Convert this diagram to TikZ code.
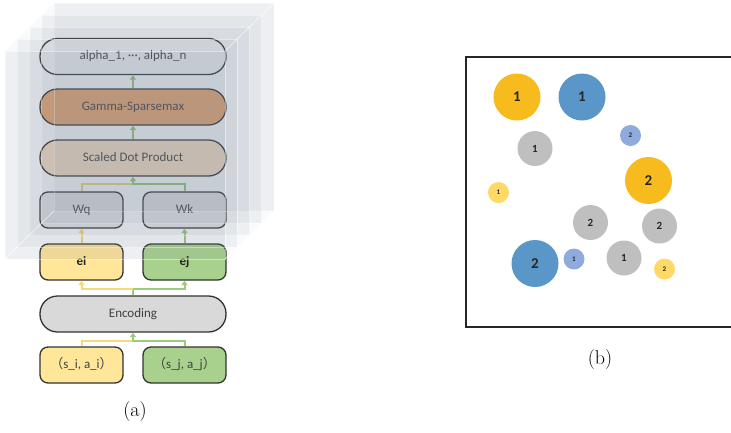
\documentclass[tikz,border=0pt]{standalone}
\usepackage{fontspec}
\newfontfamily\calibri{Carlito}
\newfontfamily\cjk{Noto Sans CJK SC}
\usetikzlibrary{arrows.meta,calc}

\definecolor{linec}{HTML}{333333}
\definecolor{txt}{HTML}{404040}
\definecolor{yl}{HTML}{F7D97C}
\definecolor{gn}{HTML}{9CCB7E}
\definecolor{fyel}{HTML}{FFE699}
\definecolor{fgrn}{HTML}{A9D18E}
\definecolor{fenc}{HTML}{D9D9D9}
\definecolor{fgam}{HTML}{F4AA70}
\definecolor{fsdp}{HTML}{FFE4C8}
\definecolor{fw}{HTML}{EBEBEB}
\definecolor{glass}{RGB}{110,125,145}
\definecolor{cgold}{HTML}{F7BB1E}
\definecolor{cblue}{HTML}{5B96C8}
\definecolor{cpale}{HTML}{8FAADC}
\definecolor{cgray}{HTML}{BFBFBF}
\definecolor{clyel}{HTML}{FFD966}
\definecolor{frame}{HTML}{262626}

\tikzset{
  boxtext/.style={font=\calibri\fontsize{13}{15}\selectfont, text=txt,
    text height=9pt, text depth=2.5pt},
  pill/.style={draw=linec, line width=1.3pt, rounded corners=17.5pt,
    minimum width=186pt, minimum height=36pt, inner sep=0pt, boxtext},
  smallbox/.style={draw=linec, line width=1.3pt, rounded corners=8pt,
    minimum width=83pt, minimum height=36pt, inner sep=0pt, boxtext},
  boldbox/.style={smallbox, font=\calibri\bfseries\fontsize{13}{15}\selectfont, text=black!85},
  yline/.style={draw=yl, line width=2pt},
  gline/.style={draw=gn, line width=2pt},
  tip/.style={-{Triangle[width=6pt,length=4.5pt]}},
  layer/.style={fill=glass, fill opacity=0.085, draw=white, draw opacity=0.45, line width=0.6pt},
  ball/.style={circle, inner sep=0pt, text=black!85},
  big/.style={ball, minimum size=47pt, font=\calibri\bfseries\fontsize{15}{16}\selectfont},
  mid/.style={ball, minimum size=35pt, font=\calibri\bfseries\fontsize{11}{12}\selectfont},
  tiny/.style={ball, minimum size=21pt, font=\calibri\bfseries\fontsize{7}{8}\selectfont},
  caption/.style={font=\fontsize{20}{22}\selectfont}
}

\begin{document}
\begin{tikzpicture}[x=1pt,y=-1pt]
\useasboundingbox (0,0) rectangle (731,432);

% ---------- (a) attention stack ----------
\node[smallbox, fill=fyel] (sa) at (81.5,365) {{\cjk （}s\_i, a\_i{\cjk ）}};
\node[smallbox, fill=fgrn] (sb) at (184.5,365) {{\cjk （}s\_j, a\_j{\cjk ）}};
\node[pill, fill=fenc] (enc) at (133,314) {Encoding};
\node[boldbox, fill=fyel] (ei) at (81.5,262) {ei};
\node[boldbox, fill=fgrn] (ej) at (184.5,262) {ej};
\node[smallbox, fill=fw] (wq) at (81.5,210) {Wq};
\node[smallbox, fill=fw] (wk) at (184.5,210) {Wk};
\node[pill, fill=fsdp] (sdp) at (133,158) {Scaled Dot Product};
\node[pill, fill=fgam] (gam) at (133,107) {Gamma-Sparsemax};
\node[pill, fill=white] (alp) at (133,56.5) {alpha\_1, ···, alpha\_n};

% junction points of the merging / splitting connectors
\coordinate (j1) at (133,341);
\coordinate (j2) at (133,289);
\coordinate (j3) at (133,184);

\draw[yline] (sa.north) |- (j1);
\draw[gline, tip] (sb.north) |- (j1) -- (enc.south);
\draw[gline] (enc.north) -- (j2);
\draw[yline, tip] (j2) -| (ei.south);
\draw[gline, tip] (j2) -| (ej.south);
\draw[yline, tip] (ei.north) -- (wq.south);
\draw[gline, tip] (ej.north) -- (wk.south);
\draw[yline] (wq.north) |- (j3);
\draw[gline, tip] (wk.north) |- (j3) -- (sdp.south);
\draw[gline, tip] (sdp.north) -- (gam.south);
\draw[gline, tip] (gam.north) -- (alp.south);

% translucent stacked glass layers in front of the stack
\fill[glass, opacity=0.04] (5,51) -- (54,3) -- (274,3) -- (274,211) -- (225,259) -- (5,259) -- cycle;
\foreach \k in {4,3,2,1,0}{
  \path[layer] ({5+12.25*\k},{51-12*\k}) rectangle ++(220,208);
}
\draw[white, opacity=0.6, line width=0.8pt] (5,51) -- (54,3);
\draw[white, opacity=0.6, line width=0.8pt] (225,51) -- (274,3);
\draw[white, opacity=0.6, line width=0.8pt] (225,259) -- (274,211);
\draw[white, opacity=0.6, line width=0.8pt] (5,259) -- (54,211);

\node[caption] (capa) at (135,412) {(a)};

% ---------- (b) agents in the field ----------
\draw[frame, line width=2pt] (731,57) -- (466,57) -- (466,327) -- (731,327);

\node[big, fill=cgold] (o1) at (517,97) {1};
\node[big, fill=cblue] (b1) at (582,97) {1};
\node[tiny, fill=cpale] (p2) at (630.5,135.5) {2};
\node[mid, fill=cgray] (g1) at (535,148.5) {1};
\node[big, fill=cgold] (o2) at (648.5,180.5) {2};
\node[tiny, fill=clyel] (y1) at (498.5,192.5) {1};
\node[mid, fill=cgray] (g2) at (590.5,222.5) {2};
\node[mid, fill=cgray] (g3) at (659.5,226) {2};
\node[big, fill=cblue] (b2) at (535,263.5) {2};
\node[tiny, fill=cpale] (p1) at (574,259) {1};
\node[mid, fill=cgray] (g4) at (624,258) {1};
\node[tiny, fill=clyel] (y2) at (664.5,269) {2};

\node[caption] (capb) at (600,360) {(b)};
\end{tikzpicture}
\end{document}
